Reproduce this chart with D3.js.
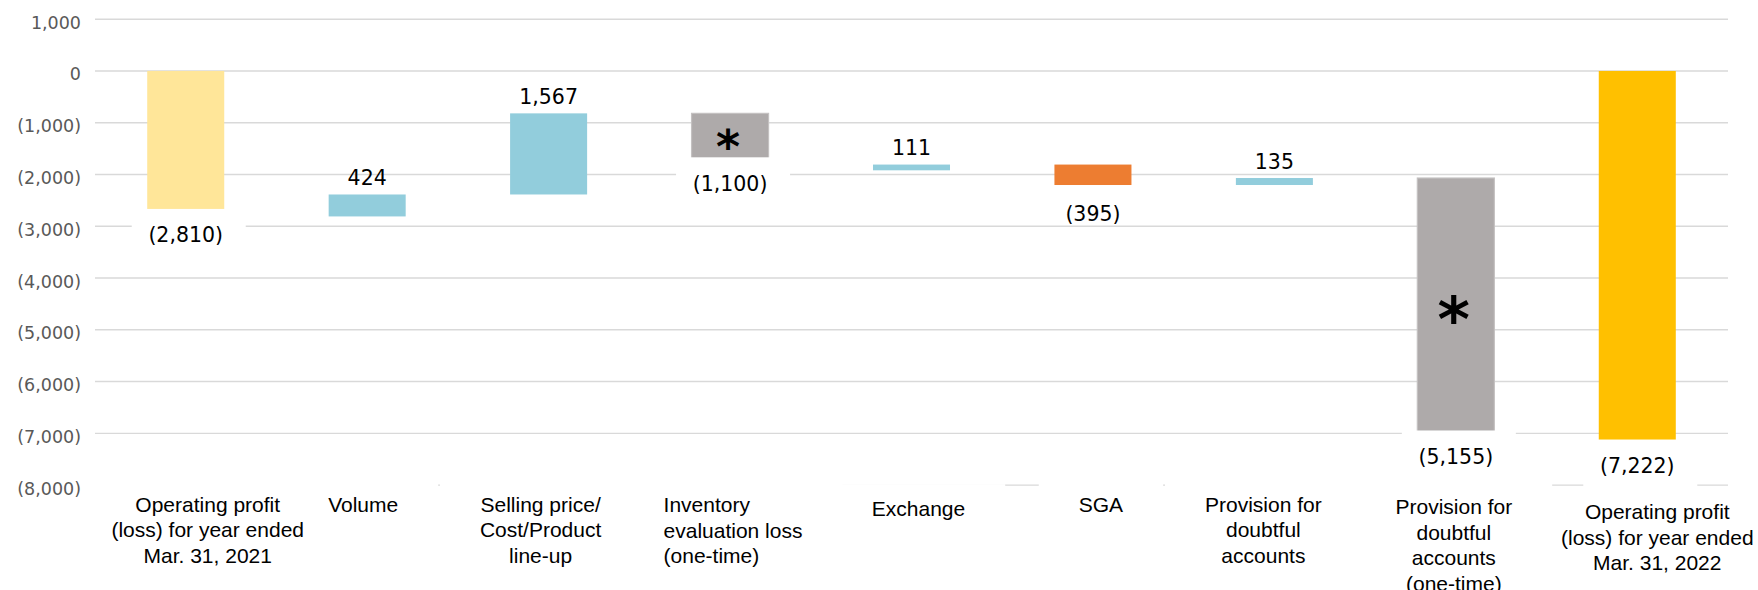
<!DOCTYPE html>
<html>
<head>
<meta charset="utf-8">
<script src="https://cdn.jsdelivr.net/npm/d3@7"></script>
<style>
  html, body { margin: 0; padding: 0; background: #ffffff; }
  svg { display: block; }
</style>
</head>
<body>
<svg id="chart" width="1758" height="590"></svg>
<script>
// Operating profit bridge, FY2021 -> FY2022 (millions of yen)
const categories = [
  ["Operating profit", "(loss) for year ended", "Mar. 31, 2021"],
  ["Volume"],
  ["Selling price/", "Cost/Product", "line-up"],
  ["Inventory", "evaluation loss", "(one-time)"],
  ["Exchange"],
  ["SGA"],
  ["Provision for", "doubtful", "accounts"],
  ["Provision for", "doubtful", "accounts", "(one-time)"],
  ["Operating profit", "(loss) for year ended", "Mar. 31, 2022"]
];
const values = [-2810, 424, 1567, -1100, 111, -395, 135, -5155, -7222];
const kinds = ["start", "change", "change", "oneTime", "change", "change", "change", "oneTime", "end"];
const valueLabels = ["(2,810)", "424", "1,567", "(1,100)", "111", "(395)", "135", "(5,155)", "(7,222)"];
const yTicks = [1000, 0, -1000, -2000, -3000, -4000, -5000, -6000, -7000, -8000];
const yTickLabels = ["1,000", "0", "(1,000)", "(2,000)", "(3,000)", "(4,000)", "(5,000)", "(6,000)", "(7,000)", "(8,000)"];

// Hand-placed text boxes: nudges for category captions and value labels
const captionLayout = [
  { dx: 22, dy: 26.5, anchor: "middle" },
  { dx: -4, dy: 26.5, anchor: "middle" },
  { dx: -8, dy: 26.5, anchor: "middle" },
  { dx: -66.5, dy: 27, anchor: "start" },
  { dx: 7, dy: 30.5, anchor: "middle" },
  { dx: 8, dy: 26.5, anchor: "middle" },
  { dx: -11, dy: 26.5, anchor: "middle" },
  { dx: -2, dy: 29, anchor: "middle" },
  { dx: 20, dy: 34, anchor: "middle" }
];
const valueLabelGap = [18.5, 16.7, 16.7, 13, 16.7, 28.3, 16.7, 11.6, 20.7];

const W = 1758, H = 590;
const plot = { left: 95, right: 1728, top: 19.2, bottom: 485.1 };

const colors = {
  start: "#FFE699",
  end: "#FFC000",
  up: "#92CDDC",
  down: "#ED7D31",
  oneTime: "#AEAAAA",
  grid: "#D9D9D9",
  tick: "#595959",
  text: "#000000"
};

const svg = d3.select("#chart");
svg.append("rect").attr("width", W).attr("height", H).attr("fill", "#ffffff");

const x = d3.scaleBand()
  .domain(d3.range(categories.length))
  .range([plot.left, plot.right])
  .paddingInner(0.5755)
  .paddingOuter(0.5755 / 2);

const y = d3.scaleLinear()
  .domain([-8000, 1000])
  .range([plot.bottom, plot.top]);

// Waterfall geometry: totals hang from zero, changes float on the running sum
let running = 0;
const bars = values.map((v, i) => {
  let from, to;
  if (kinds[i] === "start" || kinds[i] === "end") {
    from = 0; to = v; running = v;
  } else {
    from = running; to = running + v; running = to;
  }
  const fill = kinds[i] === "start" ? colors.start
    : kinds[i] === "end" ? colors.end
    : kinds[i] === "oneTime" ? colors.oneTime
    : v >= 0 ? colors.up : colors.down;
  return { i, v, from, to, hi: Math.max(from, to), lo: Math.min(from, to), fill, kind: kinds[i] };
});

// Gridlines
const gGrid = svg.append("g");
gGrid.selectAll("line").data(yTicks).join("line")
  .attr("x1", plot.left).attr("x2", plot.right)
  .attr("y1", d => y(d)).attr("y2", d => y(d))
  .attr("stroke", colors.grid).attr("stroke-width", 1.4);

// Bars
svg.append("g").selectAll("rect").data(bars).join("rect")
  .attr("x", d => x(d.i))
  .attr("width", x.bandwidth())
  .attr("y", d => y(d.hi))
  .attr("height", d => y(d.lo) - y(d.hi))
  .attr("fill", d => d.fill)
  .attr("stroke", d => d.kind === "oneTime" ? "#C4C1C1" : "none")
  .attr("stroke-width", 1.2);

// Value label positions
const labelFont = "'DejaVu Sans', Verdana, sans-serif";
const labelInfo = bars.map(d => {
  const cx = x(d.i) + x.bandwidth() / 2;
  const above = d.v > 0;
  const cy = above ? y(d.hi) - valueLabelGap[d.i] : y(d.lo) + valueLabelGap[d.i];
  const boxed = !above && d.kind !== "change";
  return { d, cx, cy, boxed };
});

// White text boxes behind the boxed labels
svg.append("g").selectAll("rect").data(labelInfo.filter(l => l.boxed)).join("rect")
  .attr("x", l => l.cx + 3 - 57)
  .attr("y", l => l.cy - 26)
  .attr("width", 114)
  .attr("height", 52)
  .attr("fill", "#ffffff");

// Category caption boxes (white) and captions
const gCap = svg.append("g");
const lineH = 25.6;
const captionFont = "'Liberation Sans', Arial, sans-serif";
categories.forEach((lines, i) => {
  const lay = captionLayout[i];
  const cx = x(i) + x.bandwidth() / 2 + lay.dx;
  const baseline0 = plot.bottom + lay.dy;
  const t = gCap.append("text")
    .attr("text-anchor", lay.anchor)
    .attr("fill", colors.text)
    .style("font-family", captionFont)
    .style("font-size", "21px");
  lines.forEach((ln, k) => {
    t.append("tspan").attr("x", cx).attr("y", baseline0 + k * lineH).text(ln);
  });
  const bb = t.node().getBBox();
  const left = Math.max(plot.left, bb.x - 40);
  gCap.insert("rect", "text")
    .attr("x", left)
    .attr("y", baseline0 - 7.5 - 24)
    .attr("width", bb.x + bb.width + 40 - left)
    .attr("height", bb.height + 30)
    .attr("fill", "#ffffff");
});
gCap.selectAll("text").raise();

// Y axis labels (drawn above the caption boxes)
const yAxis = d3.axisLeft(y).tickValues(yTicks)
  .tickFormat((d, k) => yTickLabels[k]).tickSize(0).tickPadding(0);
const gY = svg.append("g").attr("transform", `translate(${81},0)`).call(yAxis);
gY.select(".domain").remove();
gY.selectAll("text")
  .attr("dy", null)
  .attr("y", 9)
  .attr("fill", colors.tick)
  .style("font-family", "'DejaVu Sans', Verdana, sans-serif")
  .style("font-size", "17.5px");

svg.append("g").selectAll("text").data(labelInfo).join("text")
  .attr("x", l => l.cx)
  .attr("y", l => l.cy + 7.3)
  .attr("text-anchor", "middle")
  .attr("fill", colors.text)
  .style("font-family", labelFont)
  .style("font-size", "20.5px")
  .text(l => valueLabels[l.d.i]);

// Asterisks marking one-time items
const oneTimeBars = labelInfo.filter(l => l.d.kind === "oneTime");
svg.append("g").selectAll("text").data(oneTimeBars).join("text")
  .attr("x", l => l.cx - 2)
  .attr("y", l => {
    const top = y(l.d.hi);
    const visibleBottom = Math.min(y(l.d.lo), l.cy - 26);
    const mid = (top + visibleBottom) / 2 + 3;
    const fs = (visibleBottom - top) > 100 ? 62 : 46;
    return mid + fs * 0.54;
  })
  .attr("text-anchor", "middle")
  .attr("fill", "#000000")
  .style("font-family", "'DejaVu Sans', sans-serif")
  .style("font-weight", "bold")
  .style("font-size", l => ((y(l.d.lo) - y(l.d.hi)) > 150 ? 62 : 46) + "px")
  .text("*");
</script>
</body>
</html>
